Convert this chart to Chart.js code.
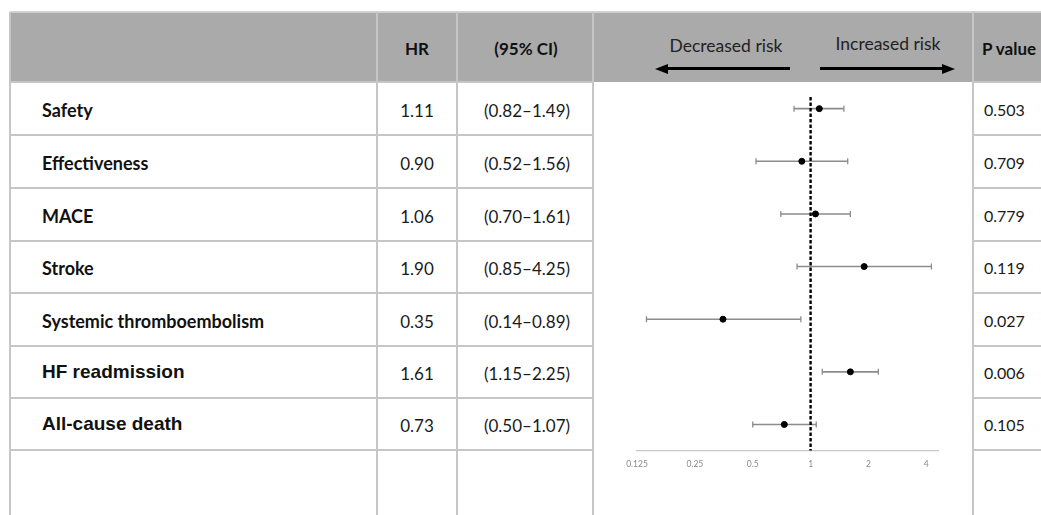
<!DOCTYPE html>
<html>
<head>
<meta charset="utf-8">
<script src="https://cdn.jsdelivr.net/npm/chart.js@4/dist/chart.umd.min.js"></script>
<style>
  html, body { margin: 0; padding: 0; background: #fff; }
  #wrap { position: relative; width: 1041px; height: 515px; overflow: hidden; background: #fff; }
  .abs { position: absolute; }
  .hline { position: absolute; height: 2px; background: #c6c6c6; }
  .vline { position: absolute; width: 2px; background: #c6c6c6; }
  .txt { position: absolute; white-space: nowrap; color: #111; font-family: Lato, "Open Sans", sans-serif; line-height: 1; }
  .cal { font-family: Lato, "Open Sans", sans-serif; }
  .ari { font-family: "Liberation Sans", Arial, sans-serif; }
  #chartBox { position: absolute; left: 593px; top: 82px; width: 380px; height: 433px; }
</style>
</head>
<body>
<div id="wrap">
  <div id="chartBox"><canvas id="c"></canvas></div>
</div>
<script>
// ---------- data ----------
const outcomes = ['Safety', 'Effectiveness', 'MACE', 'Stroke', 'Systemic thromboembolism', 'HF readmission', 'All-cause death'];
const hr = [1.11, 0.90, 1.06, 1.90, 0.35, 1.61, 0.73];
const ciLow = [0.82, 0.52, 0.70, 0.85, 0.14, 1.15, 0.50];
const ciHigh = [1.49, 1.56, 1.61, 4.25, 0.89, 2.25, 1.07];
const pValues = ['0.503', '0.709', '0.779', '0.119', '0.027', '0.006', '0.105'];
const xTicks = [0.125, 0.25, 0.5, 1, 2, 4];
const headers = { hr: 'HR', ci: '(95% CI)', p: 'P value', dec: 'Decreased risk', inc: 'Increased risk' };

// ---------- table layout ----------
const wrap = document.getElementById('wrap');
const colX = [10, 377, 457, 593, 973];
const rowY = [82, 135, 188, 241, 293, 346, 398, 450];
const headTop = 12;
const fmt = v => v.toFixed(2);
const arialRows = new Set(['HF readmission', 'All-cause death']);

function el(cls, style, text) {
  const d = document.createElement('div');
  d.className = cls;
  Object.assign(d.style, style);
  if (text !== undefined) d.textContent = text;
  wrap.appendChild(d);
  return d;
}

// header background
el('abs', { left: colX[0] + 'px', top: headTop + 'px', width: (1041 - colX[0]) + 'px', height: (rowY[0] - headTop) + 'px', background: '#aaaaaa' });
// top line
el('hline', { left: colX[0] + 'px', top: (headTop - 1) + 'px', width: (1041 - colX[0]) + 'px', background: '#d0d0d0' });

// horizontal row lines (not through plot column)
rowY.forEach(y => {
  el('hline', { left: colX[0] + 'px', top: (y - 1) + 'px', width: (colX[3] - colX[0] + 1) + 'px' });
  el('hline', { left: colX[4] + 'px', top: (y - 1) + 'px', width: (1041 - colX[4]) + 'px' });
});
// vertical lines
colX.forEach(x => {
  el('vline', { left: (x - 1) + 'px', top: headTop + 'px', height: (515 - headTop) + 'px', background: '#c6c6c6' });
});

// header texts
function centerText(text, cx, cy, style) {
  return el('txt', Object.assign({ top: cy + 'px', left: cx + 'px', transform: 'translate(-50%,-50%)' }, style), text);
}
centerText(headers.hr, (colX[1] + colX[2]) / 2, 48, { fontWeight: 'bold', fontSize: '17px' });
centerText(headers.ci, (colX[2] + colX[3]) / 2 + 1, 48, { fontWeight: 'bold', fontSize: '17px' });
el('txt', { left: '982px', top: '48px', transform: 'translateY(-50%)', fontWeight: 'bold', fontSize: '17px' }, headers.p);
centerText(headers.dec, 726, 46, { fontSize: '17.5px', color: '#222' });
centerText(headers.inc, 888, 44, { fontSize: '17.5px', color: '#222' });

// arrows
el('abs', { left: '667px', top: '67px', width: '123px', height: '3px', background: '#000' });
el('abs', { left: '655px', top: '63.5px', width: 0, height: 0, borderTop: '5px solid transparent', borderBottom: '5px solid transparent', borderRight: '13px solid #000' });
el('abs', { left: '820px', top: '67px', width: '123px', height: '3px', background: '#000' });
el('abs', { left: '942px', top: '63.5px', width: 0, height: 0, borderTop: '5px solid transparent', borderBottom: '5px solid transparent', borderLeft: '13px solid #000' });

// row texts
outcomes.forEach((name, i) => {
  const cy = (rowY[i] + rowY[i + 1]) / 2 + 1;
  const ar = arialRows.has(name);
  el('txt ' + (ar ? 'ari' : 'cal'), {
    left: '42px', top: (cy - (ar ? 2 : 0)) + 'px', transform: 'translateY(-50%)',
    fontWeight: 'bold', fontSize: ar ? '19px' : '18px', color: '#111'
  }, name);
  centerText(fmt(hr[i]), (colX[1] + colX[2]) / 2, cy, { fontSize: '17px', color: '#1a1a1a' });
  centerText('(' + fmt(ciLow[i]) + '\u2013' + fmt(ciHigh[i]) + ')', (colX[2] + colX[3]) / 2 + 2, cy, { fontSize: '17px', color: '#1a1a1a' });
  el('txt', { left: '984px', top: cy + 'px', transform: 'translateY(-50%)', fontSize: '16px', color: '#1a1a1a' }, pValues[i]);
});

// ---------- forest plot ----------
const ciDatasets = outcomes.map((name, i) => ({
  type: 'line',
  label: name + ' CI',
  data: [{ x: ciLow[i], y: i }, { x: ciHigh[i], y: i }],
  borderColor: '#8c8c8c',
  borderWidth: 1.6,
  pointStyle: 'line',
  pointRotation: 90,
  pointRadius: 3,
  pointBorderColor: '#8c8c8c',
  pointBorderWidth: 1.3,
  pointHoverRadius: 3,
  order: 3
}));

const refLine = {
  type: 'line',
  label: 'HR = 1',
  data: [{ x: 1, y: -0.22 }, { x: 1, y: 6.5 }],
  borderColor: '#000',
  borderWidth: 2.4,
  borderDash: [3.5, 2],
  pointRadius: 0,
  order: 2
};

const pointSet = {
  type: 'scatter',
  label: 'HR',
  data: hr.map((v, i) => ({ x: v, y: i })),
  backgroundColor: '#000',
  borderColor: '#000',
  pointRadius: 3,
  order: 1
};

new Chart(document.getElementById('c'), {
  type: 'scatter',
  data: { datasets: [...ciDatasets, refLine, pointSet] },
  options: {
    responsive: true,
    maintainAspectRatio: false,
    animation: false,
    events: [],
    layout: { padding: { left: 44, right: 35, top: 13.5, bottom: 38 } },
    plugins: { legend: { display: false }, tooltip: { enabled: false } },
    scales: {
      x: {
        type: 'logarithmic',
        min: 0.125,
        max: 4.6,
        afterBuildTicks: scale => { scale.ticks = xTicks.map(v => ({ value: v })); },
        grid: { display: false, drawTicks: false },
        border: { display: true, color: '#c8c8c8', width: 1.2 },
        ticks: {
          autoSkip: false,
          maxRotation: 0,
          padding: 8,
          color: '#8a8a8a',
          font: { family: 'Lato', size: 8.5 },
          callback: v => String(v)
        }
      },
      y: {
        type: 'linear',
        min: -0.25,
        max: 6.5,
        reverse: true,
        display: false
      }
    }
  }
});
</script>
</body>
</html>
